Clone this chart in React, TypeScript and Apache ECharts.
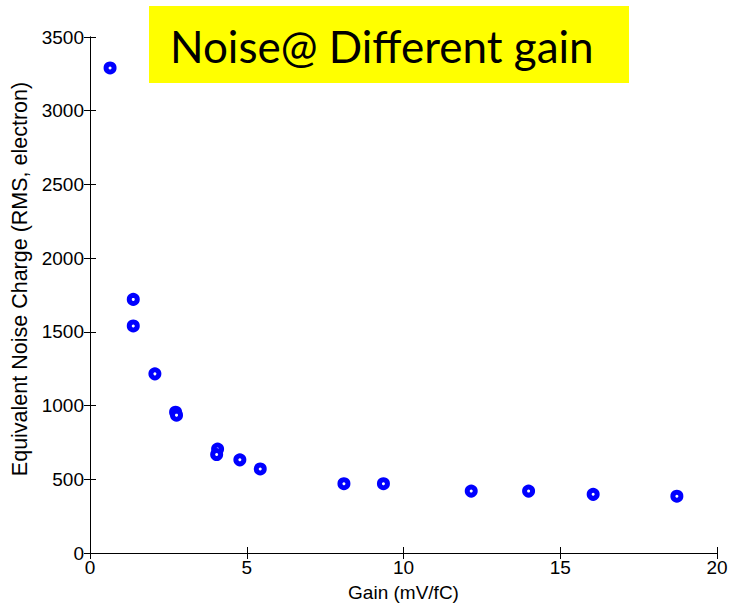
import React, { useEffect, useRef } from "react";
import * as echarts from "echarts";

const gainValues = [0.64, 1.38, 1.38, 2.07, 2.73, 2.76, 4.07, 4.04, 4.78, 5.43, 8.1, 9.36, 12.16, 13.99, 16.05, 18.72];
const noiseValues = [3290, 1720, 1540, 1215, 955, 935, 705, 668, 632, 570, 470, 470, 420, 420, 398, 385];
const xTicks = [0, 5, 10, 15, 20];
const yTicks = [0, 500, 1000, 1500, 2000, 2500, 3000, 3500];
const titleText = "Noise@ Different gain";
const xName = "Gain (mV/fC)";
const yName = "Equivalent Noise Charge (RMS, electron)";

export default function App() {
  const ref = useRef<HTMLDivElement>(null);
  useEffect(() => {
    if (!ref.current) return;
    const chart = echarts.init(ref.current, undefined, { renderer: "svg" });
    const font = "'Liberation Sans', Arial, sans-serif";
    const points = gainValues.map((g, i) => [g, noiseValues[i]]);
    const tickCommon = { show: true, inside: true, length: 6, lineStyle: { color: "#000", width: 1 } };
    const plain = (v: number) => String(v);
    chart.setOption({
      animation: false,
      backgroundColor: "#fff",
      grid: { left: 90, right: 14, top: 37, bottom: 51, show: false, containLabel: false, outerBoundsMode: "none" },
      xAxis: [
        {
          type: "value",
          min: xTicks[0],
          max: xTicks[xTicks.length - 1],
          interval: 5,
          position: "bottom",
          name: xName,
          nameLocation: "middle",
          nameGap: 30,
          nameTextStyle: { color: "#000", fontSize: 19, fontFamily: font },
          axisLine: { show: true, lineStyle: { color: "#000", width: 1 } },
          axisTick: tickCommon,
          axisLabel: { color: "#000", fontSize: 19, fontFamily: font, margin: 5, formatter: plain },
          splitLine: { show: false },
        },
        {
          type: "value",
          min: xTicks[0],
          max: xTicks[xTicks.length - 1],
          interval: 5,
          position: "top",
          axisLine: { show: true, lineStyle: { color: "#000", width: 1 } },
          axisTick: tickCommon,
          axisLabel: { show: false },
          splitLine: { show: false },
        },
      ],
      yAxis: [
        {
          type: "value",
          min: yTicks[0],
          max: yTicks[yTicks.length - 1],
          interval: 500,
          position: "left",
          axisLine: { show: true, lineStyle: { color: "#000", width: 1 } },
          axisTick: tickCommon,
          axisLabel: { color: "#000", fontSize: 19, fontFamily: font, margin: 6, formatter: plain },
          splitLine: { show: false },
        },
        {
          type: "value",
          min: yTicks[0],
          max: yTicks[yTicks.length - 1],
          interval: 500,
          position: "right",
          axisLine: { show: true, lineStyle: { color: "#000", width: 1 } },
          axisTick: tickCommon,
          axisLabel: { show: false },
          splitLine: { show: false },
        },
      ],
      series: [
        {
          type: "scatter",
          data: points,
          symbol: "circle",
          symbolSize: 8,
          itemStyle: { color: "#ffffff", borderColor: "#0000ff", borderWidth: 5, opacity: 1 },
          emphasis: { disabled: true },
          z: 5,
        },
      ],
      graphic: [
        {
          type: "text",
          z: 50,
          x: 20,
          y: 279,
          rotation: Math.PI / 2,
          style: {
            text: yName,
            fill: "#000",
            fontSize: 21.5,
            fontFamily: font,
            align: "center",
            verticalAlign: "middle",
          },
        },
        {
          type: "rect",
          z: 100,
          shape: { x: 149, y: 6, width: 480, height: 77 },
          style: { fill: "#ffff00" },
        },
        {
          type: "text",
          z: 101,
          x: 170,
          y: 46,
          style: {
            text: titleText,
            fill: "#000",
            fontSize: 44,
            fontFamily: "Lato, 'Open Sans', sans-serif",
            verticalAlign: "middle",
          },
        },
      ],
    });
    return () => chart.dispose();
  }, []);
  return <div ref={ref} style={{ position: "absolute", left: 0, top: 0, width: 731, height: 604 }} />;
}
